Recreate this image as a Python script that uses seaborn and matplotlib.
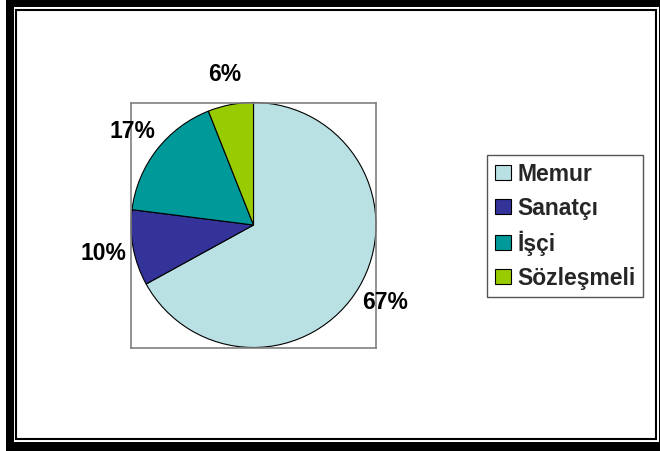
import matplotlib
matplotlib.use("Agg")
import matplotlib.pyplot as plt
from matplotlib.patches import Rectangle
import seaborn as sns

# Share of employees by contract type (percent)
categories = ["Memur", "Sanatçı", "İşçi", "Sözleşmeli"]
values = [67, 10, 17, 6]
colors = ["#B9E0E3", "#333399", "#009999", "#99CC00"]

sns.set_theme(style="white")
plt.rcParams["font.family"] = ["Liberation Sans", "DejaVu Sans"]

W, H = 660, 451
fig = plt.figure(figsize=(W / 100, H / 100), dpi=100)
fig.patch.set_facecolor("white")


def frect(x0, y0, x1, y1, **kw):
    """Rectangle given in pixel coords measured from the top-left corner."""
    r = Rectangle((x0 / W, 1 - y1 / H), (x1 - x0) / W, (y1 - y0) / H,
                  transform=fig.transFigure, zorder=-10, **kw)
    fig.add_artist(r)


# Double frame around the chart
frect(6, 0, 670, 460, facecolor="black", edgecolor="none")
frect(14, 7, 659, 442, facecolor="white", edgecolor="none")
frect(16, 10, 656, 439, facecolor="none", edgecolor="black", linewidth=1.5)

# Plot area
ax = fig.add_axes([131 / W, 1 - 348 / H, 245 / W, 246 / H])
palette = sns.color_palette(colors)
wedges, texts, autotexts = ax.pie(
    values,
    colors=palette,
    startangle=90,
    counterclock=False,
    autopct="%.0f%%",
    pctdistance=1.25,
    wedgeprops=dict(edgecolor="black", linewidth=0.8),
    textprops=dict(fontsize=16.5, fontweight="bold", color="black"),
)
for w in wedges:
    w.set_clip_on(False)

ax.set_frame_on(True)
ax.set_xlim(-1.0, 1.0)
ax.set_ylim(-1.0, 1.0)
ax.set_facecolor("white")
for s in ax.spines.values():
    s.set_visible(True)
    s.set_color("#808080")
    s.set_linewidth(1.2)
ax.set_xticks([])
ax.set_yticks([])

leg = ax.legend(
    wedges, categories,
    loc="upper left",
    bbox_to_anchor=(487 / W, 1 - 155 / H),
    bbox_transform=fig.transFigure,
    borderaxespad=0,
    frameon=True,
    fancybox=False,
    shadow=False,
    framealpha=1,
    prop=dict(family=["Liberation Sans", "DejaVu Sans"], weight="bold", size=16.5),
    handlelength=0.7,
    handleheight=0.6,
    handletextpad=0.3,
    labelspacing=0.48,
    borderpad=0.33,
)
leg.get_frame().set_edgecolor("#555555")
leg.get_frame().set_linewidth(1.0)

fig.savefig("out.png", dpi=100, facecolor="white")
